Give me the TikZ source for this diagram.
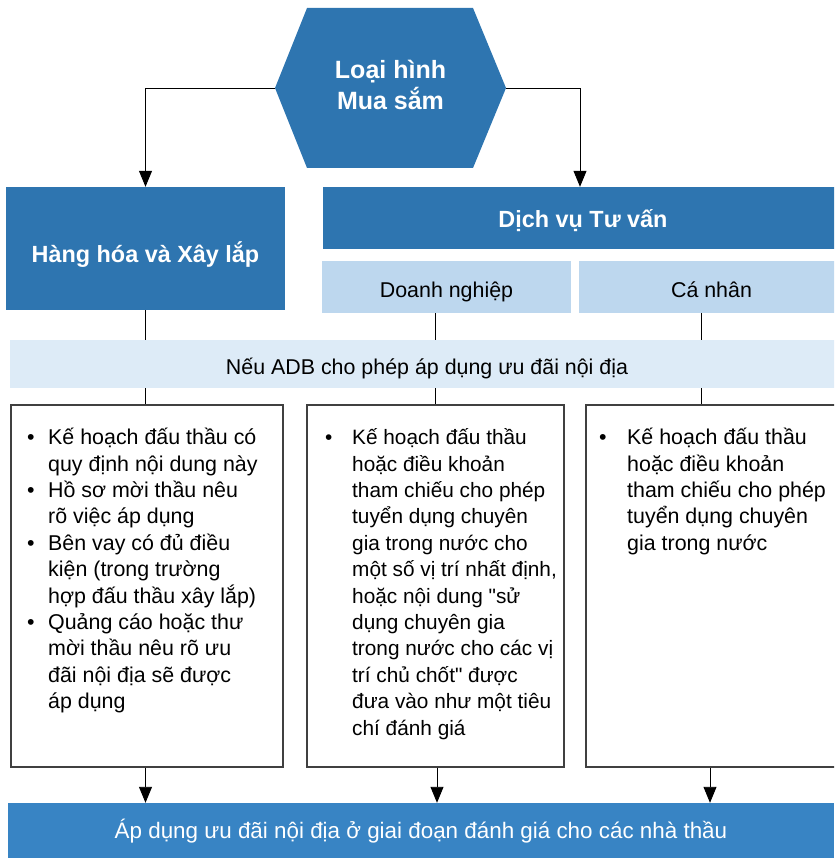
\documentclass[tikz,border=0pt]{standalone}
\usepackage{fontspec}
\setmainfont{Liberation Sans}
\newfontfamily\qfont{Liberation Sans}
\usetikzlibrary{arrows.meta}

\definecolor{darkblue}{HTML}{2E75B0}
\definecolor{barblue}{HTML}{3884C4}
\definecolor{midblue}{HTML}{BDD7EE}
\definecolor{paleblue}{HTML}{DDEBF7}

\newcommand{\bodyfont}{\fontsize{21.4}{26.4}\selectfont}
\newcommand{\qt}{{\qfont"}}

\begin{document}
\begin{tikzpicture}[x=1pt, y=-1pt,
    head/.style={text=white, font=\bfseries\fontsize{23.4}{28}\selectfont, inner sep=0pt},
    darkbox/.style={fill=darkblue, head},
    lightbox/.style={fill=midblue, inner sep=0pt, font=\bodyfont, text height=24pt, text depth=4pt},
    condbar/.style={fill=paleblue, inner sep=0pt, font=\bodyfont, text height=24pt, text depth=4pt},
    textbox/.style={draw=black!75, line width=1.3pt, inner sep=0pt},
    bullets/.style={anchor=north west, inner sep=0pt, font=\bodyfont},
    link/.style={line width=0.9pt},
    arrow/.style={link, -{Triangle[length=16pt,width=13pt]}}]
    \useasboundingbox (0,0) rectangle (834,858);
    \clip (0,0) rectangle (834,858);

    % top hexagon
    \fill[darkblue] (275,88) -- (307,8) -- (473,8) -- (506,88) -- (473,168) -- (307,168) -- cycle;
    \node[head, minimum width=231pt, minimum height=160pt, align=center,
        font=\bfseries\fontsize{25}{31}\selectfont] (type) at (390.5,88)
        {\raisebox{3pt}{\begin{tabular}{c}Loại hình\\Mua sắm\end{tabular}}};

    % blue headers
    \node[darkbox, minimum width=279pt, minimum height=123pt, text height=31pt, text depth=4pt] (goods) at (145.5,248.5) {Hàng hóa và Xây lắp};
    \node[darkbox, minimum width=520pt, minimum height=62pt, text height=24pt, text depth=4pt] (consult) at (583,218) {Dịch vụ Tư vấn};
    \node[lightbox, minimum width=249pt, minimum height=52pt] (firm) at (446.5,287) {Doanh nghiệp};
    \node[lightbox, minimum width=265pt, minimum height=52pt] (indiv) at (711.5,287) {Cá nhân};

    % condition bar
    \node[condbar, minimum width=834pt, minimum height=48pt] (cond) at (427,364) {Nếu ADB cho phép áp dụng ưu đãi nội địa};

    % text boxes
    \node[textbox, minimum width=272pt, minimum height=362pt] (boxa) at (147,586) {};
    \node[textbox, minimum width=257pt, minimum height=362pt] (boxb) at (435.5,586) {};
    \node[textbox, minimum width=314pt, minimum height=362pt] (boxc) at (743,586) {};

    \node[bullets] (lista) at (27,426) {\begin{tabular}{@{}p{21pt}@{}l@{}}
        • & Kế hoạch đấu thầu có\\
          & quy định nội dung này\\
        • & Hồ sơ mời thầu nêu\\
          & rõ việc áp dụng\\
        • & Bên vay có đủ điều\\
          & kiện (trong trường\\
          & hợp đấu thầu xây lắp)\\
        • & Quảng cáo hoặc thư\\
          & mời thầu nêu rõ ưu\\
          & đãi nội địa sẽ được\\
          & áp dụng
    \end{tabular}};
    \node[bullets, font=\fontsize{20.8}{26.4}\selectfont] (listb) at (325,426) {\begin{tabular}{@{}p{27pt}@{}l@{}}
        • & Kế hoạch đấu thầu\\
          & hoặc điều khoản\\
          & tham chiếu cho phép\\
          & tuyển dụng chuyên\\
          & gia trong nước cho\\
          & một số vị trí nhất định,\\
          & hoặc nội dung \qt sử\\
          & dụng chuyên gia\\
          & trong nước cho các vị\\
          & trí chủ chốt\qt{} được\\
          & đưa vào như một tiêu\\
          & chí đánh giá
    \end{tabular}};
    \node[bullets] (listc) at (599,426) {\begin{tabular}{@{}p{28pt}@{}l@{}}
        • & Kế hoạch đấu thầu\\
          & hoặc điều khoản\\
          & tham chiếu cho phép\\
          & tuyển dụng chuyên\\
          & gia trong nước
    \end{tabular}};

    % result bar
    \node[fill=barblue, text=white, inner sep=0pt, minimum width=826pt, minimum height=55pt,
        font=\fontsize{22.4}{26}\selectfont, text height=19pt, text depth=4pt] (result) at (421,830.5)
        {Áp dụng ưu đãi nội địa ở giai đoạn đánh giá cho các nhà thầu};

    % connectors
    \draw[arrow] (type.west) -| (goods.north);
    \draw[arrow] (type.east) -| (consult.north -| 580,0);
    \draw[link] (goods.south) -- (goods.south |- cond.north);
    \draw[link] (cond.south -| goods.south) -- (boxa.north -| goods.south);
    \draw[link] (firm.south -| boxb.north) -- (cond.north -| boxb.north);
    \draw[link] (cond.south -| boxb.north) -- (boxb.north);
    \draw[link] (indiv.south -| 701,0) -- (cond.north -| 701,0);
    \draw[link] (cond.south -| 701,0) -- (boxc.north -| 701,0);
    \draw[arrow] (boxa.south -| goods.south) -- (result.north -| goods.south);
    \draw[arrow] (boxb.south -| 437,0) -- (result.north -| 437,0);
    \draw[arrow] (boxc.south -| 710,0) -- (result.north -| 710,0);
\end{tikzpicture}
\end{document}
